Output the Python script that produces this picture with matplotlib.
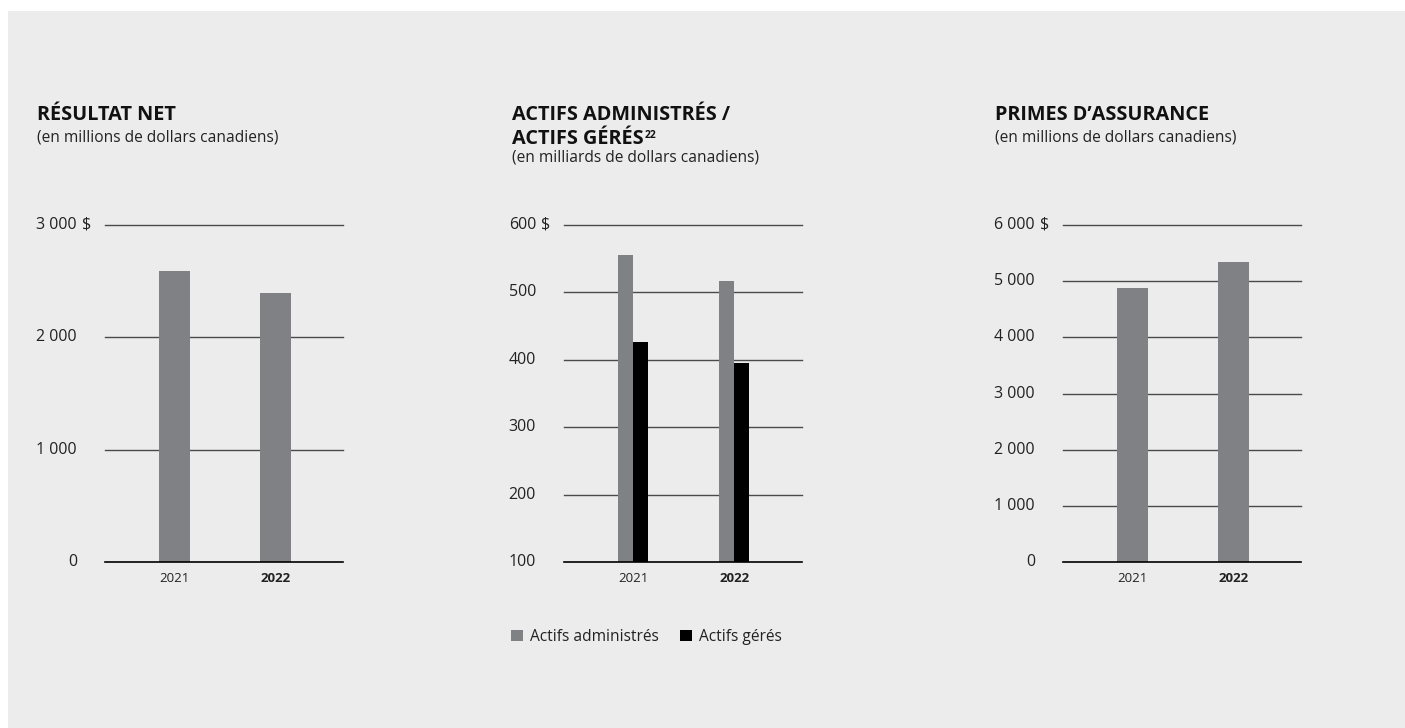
import matplotlib.pyplot as plt
from matplotlib.patches import Rectangle, Patch

plt.rcParams['font.family'] = ['Open Sans', 'DejaVu Sans']

W, H = 1405, 728
BG = '#ececec'
GREY = '#808184'
BLACK = '#000000'
GRID = '#4a4a4a'

years = ['2021', '2022']

# Résultat net (millions $)
net_income = [2590, 2395]
net_ticks = [0, 1000, 2000, 3000]

# Actifs administrés / gérés (milliards $)
aua = [555, 517]
aum = [426, 395]
assets_ticks = [100, 200, 300, 400, 500, 600]

# Primes d'assurance (millions $)
premiums = [4870, 5335]
prem_ticks = [0, 1000, 2000, 3000, 4000, 5000, 6000]


def fmt(v):
    return f"{v:,}".replace(',', ' ')


def px_axes(fig, x0, x1, ytop, ybot):
    return fig.add_axes([x0 / W, 1 - ybot / H, (x1 - x0) / W, (ybot - ytop) / H])


def style_axes(ax, ticks):
    ax.set_facecolor('none')
    for s in ax.spines.values():
        s.set_visible(False)
    ax.set_ylim(ticks[0], ticks[-1])
    ax.set_xlim(-0.685, 1.67)
    ax.set_yticks([])
    for t in ticks[1:]:
        ax.axhline(t, color=GRID, lw=1.0, zorder=0, clip_on=False)
    ax.axhline(ticks[0], color=BLACK, lw=1.2, zorder=3, clip_on=False)
    for t in ticks:
        ax.annotate(fmt(t), xy=(0, t), xycoords=('axes fraction', 'data'),
                    xytext=(-28, 0), textcoords='offset pixels',
                    ha='right', va='center', fontsize=11.5, color='#222222')
    ax.annotate('$', xy=(0, ticks[-1]), xycoords=('axes fraction', 'data'),
                xytext=(-23, 0), textcoords='offset pixels',
                ha='left', va='center', fontsize=11.5, color='#222222')
    ax.set_xticks([0, 1])
    ax.set_xticklabels(years, fontsize=9.5, color='#222222')
    ax.get_xticklabels()[1].set_fontweight('bold')
    ax.tick_params(axis='x', length=0, pad=7)


def header(fig, x, lines, sub, y0, sub_y):
    y = y0
    last = None
    for ln in lines:
        last = fig.text(x / W, 1 - y / H, ln, fontsize=14.3, fontweight='bold',
                        va='baseline', ha='left', color='#111111')
        y += 24
    fig.text(x / W, 1 - sub_y / H, sub, fontsize=11.2, va='baseline',
             ha='left', color='#222222')
    return last


fig = plt.figure(figsize=(W / 100, H / 100), dpi=100, facecolor='white')
fig.patches.append(Rectangle((8 / W, 0), 1, 1 - 11 / H, transform=fig.transFigure,
                             facecolor=BG, edgecolor='none', zorder=-10))

x = [0, 1]

# Panel 1
ax1 = px_axes(fig, 105, 343, 225, 562)
style_axes(ax1, net_ticks)
ax1.bar(x, net_income, width=0.307, color=GREY, zorder=2)
header(fig, 37, ['RÉSULTAT NET'], '(en millions de dollars canadiens)', 120, 141)

# Panel 2
ax2 = px_axes(fig, 564, 802, 225, 562)
style_axes(ax2, assets_ticks)
bw = 0.149
ax2.bar([i - bw / 2 for i in x], [v - 100 for v in aua], bottom=100, width=bw,
        color=GREY, zorder=2)
ax2.bar([i + bw / 2 for i in x], [v - 100 for v in aum], bottom=100, width=bw,
        color=BLACK, zorder=2)
t = header(fig, 512, ['ACTIFS ADMINISTRÉS /', 'ACTIFS GÉRÉS'],
           '(en milliards de dollars canadiens)', 120, 162)
ax2.annotate('22', xy=(1, 1), xycoords=t, xytext=(1, -1), textcoords='offset pixels',
             ha='left', va='top', fontsize=7.5, fontweight='bold', color='#111111')
handles = [Patch(facecolor=GREY, label='Actifs administrés'),
           Patch(facecolor=BLACK, label='Actifs gérés')]
fig.legend(handles=handles, loc='center left', bbox_to_anchor=(511 / W, 1 - 637 / H),
           ncol=2, frameon=False, fontsize=11.2, handlelength=0.75, handleheight=0.75,
           handletextpad=0.45, columnspacing=1.4, borderpad=0, borderaxespad=0,
           labelcolor='#222222')

# Panel 3
ax3 = px_axes(fig, 1063, 1301, 225, 562)
style_axes(ax3, prem_ticks)
ax3.bar(x, premiums, width=0.307, color=GREY, zorder=2)
header(fig, 995, ['PRIMES D’ASSURANCE'], '(en millions de dollars canadiens)', 120, 141)

fig.savefig('out.png', dpi=100, facecolor=fig.get_facecolor())
